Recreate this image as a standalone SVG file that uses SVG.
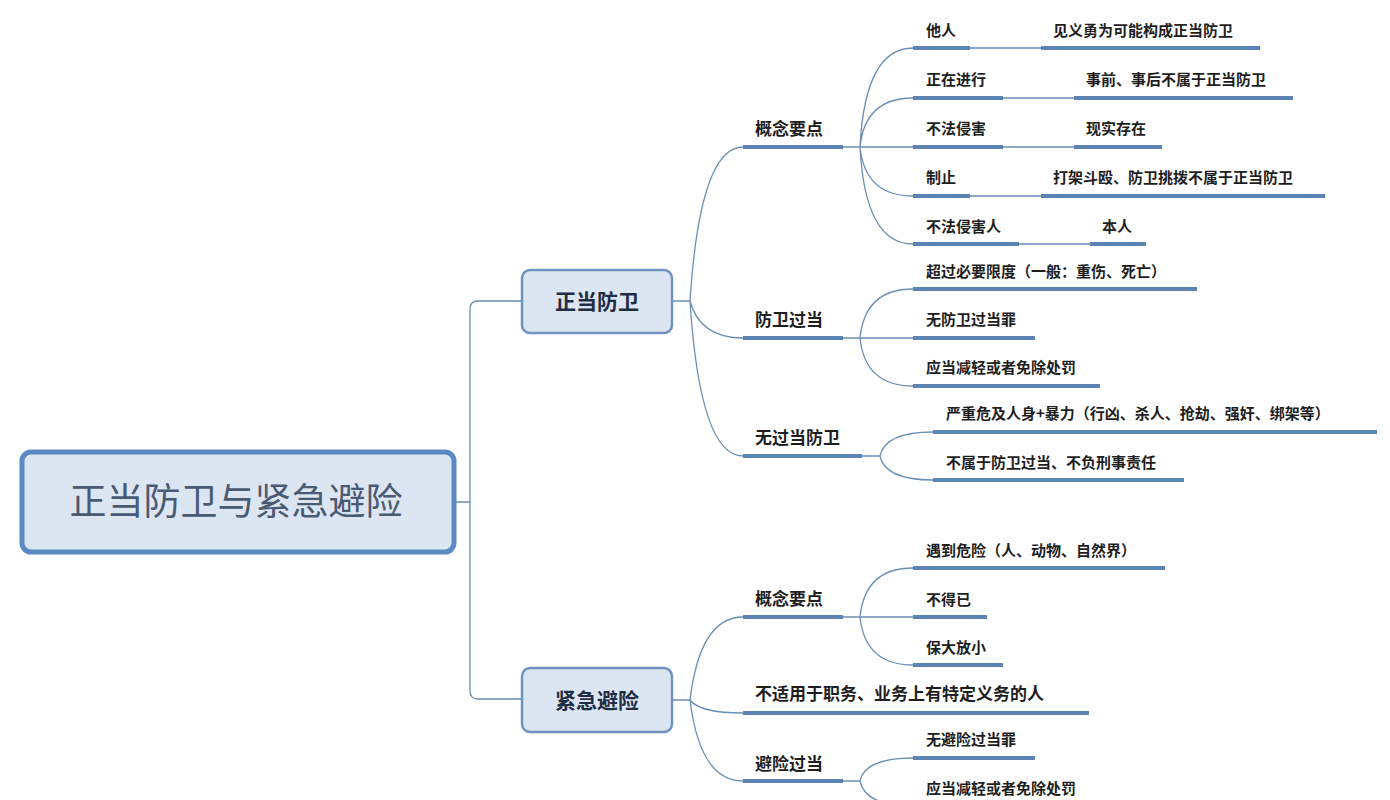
<svg xmlns="http://www.w3.org/2000/svg" width="1390" height="800" viewBox="0 0 1390 800">
<style>
text{font-family:"Noto Sans CJK SC","Noto Sans",sans-serif;fill:#1e1e1e}
.t2{font-size:17px;font-weight:bold}
.t3{font-size:15px;font-weight:bold}
.bar{stroke:#5b84b4;stroke-width:4;fill:none}
.ln{stroke:#6a8fb5;stroke-width:1.3;fill:none}
.box{fill:#dce6f2;stroke:#6f93bf;stroke-width:2.5}
</style>
<rect width="1390" height="800" fill="#fff"/>
<g id="connectors">
<path class="ln" d="M454 502H470M522 301H478Q470 301 470 309V691Q470 699 478 699H522"/>
<path class="ln" d="M672 301H690M690 301Q700 147 743 147M690 301Q700 338 743 338M690 301Q700 456 743 456"/>
<path class="ln" d="M672 700H690M690 700Q700 617 743 617M690 700Q700 713 743 713M690 700Q700 781 743 781"/>
<path class="ln" d="M843 147H860M860 147Q865 48 913 48M860 147Q865 98 913 98M860 147H913M860 147Q865 196 913 196M860 147Q865 244 913 244"/>
<path class="ln" d="M970 48H1041M1003 98H1074M1003 147H1074M970 196H1041M1019 244H1090"/>
<path class="ln" d="M843 338H860M860 338Q865 289 913 289M860 338H913M860 338Q865 386 913 386"/>
<path class="ln" d="M862 456H880M880 456Q885 432 933 432M880 456Q885 480 933 480"/>
<path class="ln" d="M843 617H860M860 617Q865 568 913 568M860 617H913M860 617Q865 665 913 665"/>
<path class="ln" d="M843 781H860M860 781Q865 758 913 758M860 781Q865 806 913 806"/>
</g>
<g id="root"><rect x="22" y="452" width="432" height="100" rx="9" fill="#dce6f2" stroke="#5b8ac4" stroke-width="5"/><text x="236" y="515" text-anchor="middle" font-size="37" style="fill:#4a5a73">正当防卫与紧急避险</text></g>
<g id="n1"><rect class="box" x="522" y="270" width="150" height="63" rx="8"/><text x="597" y="309" text-anchor="middle" font-size="21" font-weight="bold" style="fill:#1f2d44">正当防卫</text></g>
<g id="n2"><rect class="box" x="522" y="668" width="150" height="64" rx="8"/><text x="597" y="708" text-anchor="middle" font-size="21" font-weight="bold" style="fill:#1f2d44">紧急避险</text></g>
<g id="a1"><path class="bar" d="M743 147H843"/><text class="t2" x="755" y="135">概念要点</text></g>
<g id="a1-1"><path class="bar" d="M913 48H970"/><text class="t3" x="926" y="36">他人</text></g>
<g id="a1-1a"><path class="bar" d="M1041 48H1260"/><text class="t3" x="1053" y="36">见义勇为可能构成正当防卫</text></g>
<g id="a1-2"><path class="bar" d="M913 98H1003"/><text class="t3" x="926" y="85">正在进行</text></g>
<g id="a1-2a"><path class="bar" d="M1074 98H1293"/><text class="t3" x="1086" y="85">事前、事后不属于正当防卫</text></g>
<g id="a1-3"><path class="bar" d="M913 147H1003"/><text class="t3" x="926" y="134">不法侵害</text></g>
<g id="a1-3a"><path class="bar" d="M1074 147H1162"/><text class="t3" x="1086" y="134">现实存在</text></g>
<g id="a1-4"><path class="bar" d="M913 196H970"/><text class="t3" x="926" y="183">制止</text></g>
<g id="a1-4a"><path class="bar" d="M1041 196H1325"/><text class="t3" x="1053" y="183">打架斗殴、防卫挑拨不属于正当防卫</text></g>
<g id="a1-5"><path class="bar" d="M913 244H1019"/><text class="t3" x="926" y="232">不法侵害人</text></g>
<g id="a1-5a"><path class="bar" d="M1090 244H1146"/><text class="t3" x="1102" y="232">本人</text></g>
<g id="a2"><path class="bar" d="M743 338H843"/><text class="t2" x="755" y="326">防卫过当</text></g>
<g id="a2-1"><path class="bar" d="M913 289H1197"/><text class="t3" x="926" y="277">超过必要限度（一般：重伤、死亡）</text></g>
<g id="a2-2"><path class="bar" d="M913 338H1035"/><text class="t3" x="926" y="325">无防卫过当罪</text></g>
<g id="a2-3"><path class="bar" d="M913 386H1100"/><text class="t3" x="926" y="373">应当减轻或者免除处罚</text></g>
<g id="a3"><path class="bar" d="M743 456H862"/><text class="t2" x="755" y="444">无过当防卫</text></g>
<g id="a3-1"><path class="bar" d="M933 432H1377"/><text class="t3" x="946" y="419">严重危及人身+暴力（行凶、杀人、抢劫、强奸、绑架等）</text></g>
<g id="a3-2"><path class="bar" d="M933 480H1184"/><text class="t3" x="946" y="468">不属于防卫过当、不负刑事责任</text></g>
<g id="b1"><path class="bar" d="M743 617H843"/><text class="t2" x="755" y="605">概念要点</text></g>
<g id="b1-1"><path class="bar" d="M913 568H1165"/><text class="t3" x="926" y="556">遇到危险（人、动物、自然界）</text></g>
<g id="b1-2"><path class="bar" d="M913 617H987"/><text class="t3" x="926" y="605">不得已</text></g>
<g id="b1-3"><path class="bar" d="M913 665H1003"/><text class="t3" x="926" y="653">保大放小</text></g>
<g id="b2"><path class="bar" d="M743 713H1089"/><text class="t2" x="755" y="700">不适用于职务、业务上有特定义务的人</text></g>
<g id="b3"><path class="bar" d="M743 781H843"/><text class="t2" x="755" y="770">避险过当</text></g>
<g id="b3-1"><path class="bar" d="M913 758H1035"/><text class="t3" x="926" y="745">无避险过当罪</text></g>
<g id="b3-2"><path class="bar" d="M913 806H1100"/><text class="t3" x="926" y="794">应当减轻或者免除处罚</text></g>
</svg>
